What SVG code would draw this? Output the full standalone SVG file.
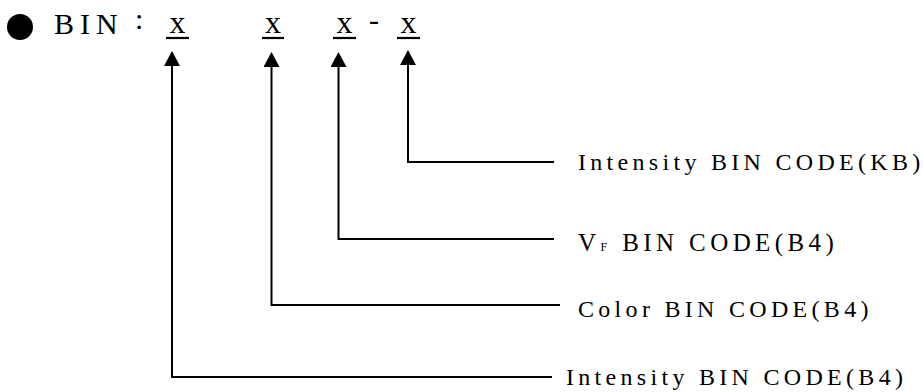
<svg xmlns="http://www.w3.org/2000/svg" width="923" height="392" viewBox="0 0 923 392">
  <defs>
    <marker id="arrow" viewBox="0 0 15 16" refX="0" refY="8" markerWidth="15" markerHeight="16" markerUnits="userSpaceOnUse" orient="auto">
      <path d="M0,0 L15,8 L0,16 z" fill="#000"/>
    </marker>
    <style>
      .t { font-family: "Liberation Serif", "Times New Roman", serif; fill: #000; }
      .hd { font-size: 30px; }
      .xc { font-size: 32px; }
      .lbl { font-size: 24px; letter-spacing: 4.3px; }
      .conn { fill: none; stroke: #000; stroke-width: 2; marker-end: url(#arrow); }
      .ul { stroke: #000; stroke-width: 2.2; }
    </style>
  </defs>
  <rect width="923" height="392" fill="#fff"/>

  <g id="header">
    <circle cx="20" cy="27" r="13" fill="#000"/>
    <text class="t hd" x="54" y="34" letter-spacing="6">BIN</text>
    <text class="t hd" x="135" y="29">:</text>
    <text class="t xc" x="177.5" y="33" text-anchor="middle">x</text>
    <text class="t xc" x="273" y="33" text-anchor="middle">x</text>
    <text class="t xc" x="344.5" y="33" text-anchor="middle">x</text>
    <text class="t hd" x="374" y="30" text-anchor="middle">-</text>
    <text class="t xc" x="408.5" y="33" text-anchor="middle">x</text>
    <line class="ul" x1="166" y1="38" x2="189" y2="38"/>
    <line class="ul" x1="262" y1="38" x2="284" y2="38"/>
    <line class="ul" x1="333" y1="38" x2="356" y2="38"/>
    <line class="ul" x1="397" y1="38" x2="420" y2="38"/>
  </g>

  <g id="connectors">
    <path class="conn" d="M552,377 H172 V66"/>
    <path class="conn" d="M560,305 H271.5 V67"/>
    <path class="conn" d="M554,239 H338.5 V67"/>
    <path class="conn" d="M554,162 H408 V65"/>
  </g>

  <g id="label-intensity-kb">
    <text class="t lbl" x="578" y="170" letter-spacing="4.1">Intensity BIN CODE(KB)</text>
  </g>
  <g id="label-vf">
    <text class="t" x="578" y="251" font-size="25" letter-spacing="4.4">V<tspan font-size="12">F</tspan> BIN CODE(B4)</text>
  </g>
  <g id="label-color">
    <text class="t lbl" x="578" y="317">Color BIN CODE(B4)</text>
  </g>
  <g id="label-intensity-b4">
    <text class="t lbl" x="566" y="385" letter-spacing="4.4">Intensity BIN CODE(B4)</text>
  </g>
</svg>
